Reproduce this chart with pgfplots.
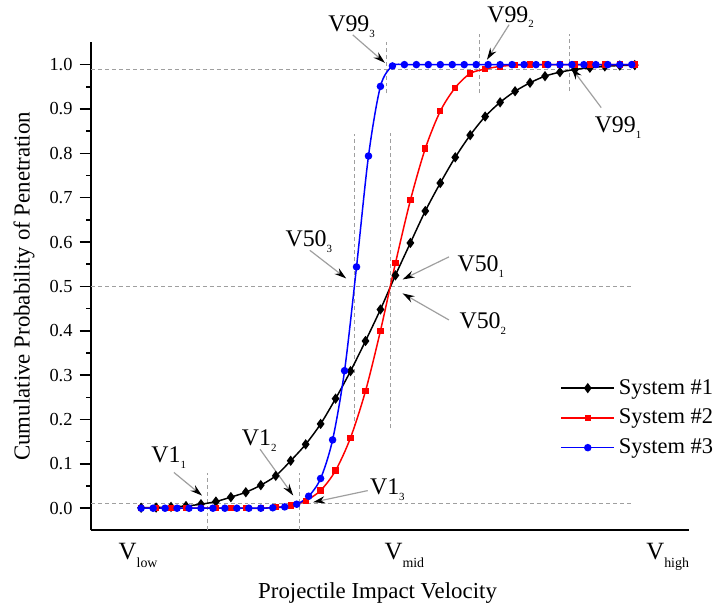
\documentclass[border=0pt]{standalone}
\usepackage{fontspec}
\setmainfont{Liberation Serif}
\usepackage{pgfplots}
\pgfplotsset{compat=1.18}
\usetikzlibrary{arrows.meta}

% V with a small, low subscript, as in the figure
\newcommand{\vsub}[2]{V#1\raisebox{-3pt}{\fontsize{5.5}{5.5}\selectfont #2}}
\newcommand{\ticksub}[1]{V\raisebox{-4pt}{\fontsize{7}{7}\selectfont #1}}

\begin{document}
\begin{tikzpicture}[
  refline/.style={gray!75, line width=0.5pt, dash pattern=on 2pt off 1.5pt},
  callout/.style={draw=gray!75, line width=0.6pt, -{Stealth[length=6pt,width=3.6pt,black]}},
  lab/.style={anchor=base west, inner sep=0pt, font=\fontsize{12}{14}\selectfont},
]
\begin{axis}[
  scale only axis,
  width=300.5pt, height=245.5pt,
  xmin=-3.32, xmax=36.61,
  ymin=-0.05, ymax=1.05,
  axis x line=bottom, axis y line=left,
  axis line style={-, line width=1pt},
  xtick={-0.2,17.6,35.2},
  xticklabels={\ticksub{low},\ticksub{mid},\ticksub{high}},
  x tick style={draw=none},
  x tick label style={font=\fontsize{12.5}{14}\selectfont, yshift=3pt},
  ytick={0,0.1,0.2,0.3,0.4,0.5,0.6,0.7,0.8,0.9,1.0},
  minor y tick num=1,
  y tick style={line width=0.8pt, black},
  tick align=outside,
  major tick length=6pt, minor tick length=2.5pt,
  y tick label style={font=\fontsize{9.25}{11}\selectfont,
    /pgf/number format/.cd, fixed, fixed zerofill, precision=1, assume math mode=true},
  xlabel={Projectile Impact Velocity},
  ylabel={Cumulative Probability of Penetration},
  label style={font=\fontsize{11.5}{13}\selectfont},
  xlabel style={at={(axis description cs:0.479,-0.129)}, anchor=center},
  ylabel style={at={(axis description cs:-0.113,0.5)}, anchor=center},
  clip=false,
  legend style={draw=none, fill=none, at={(axis description cs:0.775,0.327)},
    anchor=north west, font=\fontsize{11.3}{13}\selectfont, row sep=2pt},
  legend cell align=left,
  legend image code/.code={\draw[mark repeat=2,mark phase=2] plot coordinates {(0pt,0pt) (13.25pt,0pt) (26.5pt,0pt)};},
]

% reference lines
\draw[refline] (axis cs:-3.32,0.988) -- (axis cs:33.1,0.988);
\draw[refline] (axis cs:-3.32,0.5) -- (axis cs:32.8,0.5);
\draw[refline] (axis cs:-3.32,0.01) -- (axis cs:32.8,0.01);
\draw[refline] (axis cs:4.45,-0.05) -- (axis cs:4.45,0.079);
\draw[refline] (axis cs:10.56,-0.05) -- (axis cs:10.56,0.079);
\draw[refline] (axis cs:14.27,0.18) -- (axis cs:14.27,0.843);
\draw[refline] (axis cs:16.68,0.18) -- (axis cs:16.68,0.845);
\draw[refline] (axis cs:16.43,0.935) -- (axis cs:16.43,1.052);
\draw[refline] (axis cs:22.64,0.936) -- (axis cs:22.64,1.07);
\draw[refline] (axis cs:28.62,0.94) -- (axis cs:28.62,1.07);

\addplot[black, line width=0.75pt, smooth, mark=diamond*, mark size=2pt] coordinates {
  (0,0.001) (1,0.0015) (2,0.003) (3,0.005) (4,0.009) (5,0.015) (6,0.025) (7,0.036)
  (8,0.052) (9,0.073) (10,0.107) (11,0.144) (12,0.190) (13,0.247) (14,0.309) (15,0.377)
  (16,0.448) (17,0.525) (18,0.598) (19,0.670) (20,0.733) (21,0.791) (22,0.841) (23,0.883)
  (24,0.915) (25,0.940) (26,0.959) (27,0.974) (28,0.983) (29,0.989) (30,0.993) (31,0.996)
  (32,0.998) (33,0.999)
};
\addlegendentry{System \#1}

\addplot[red, line width=0.75pt, smooth, mark=square*, mark size=1.2pt] coordinates {
  (0,0) (1,0) (2,0) (3,0) (4,0) (5,0) (6,0) (7,0) (8,0)
  (9,0.002) (10,0.006) (11,0.017) (12,0.040) (13,0.085) (14,0.159) (15,0.264)
  (16,0.400) (17,0.552) (18,0.694) (19,0.811) (20,0.895) (21,0.948) (22,0.980)
  (23,0.990) (24,0.996) (25,0.999) (26,1) (27,1) (28,1) (29,1) (30,1) (31,1) (32,1) (33,1)
};
\addlegendentry{System \#2}

\addplot[blue, line width=0.75pt, smooth, mark=*, mark size=1.5pt] coordinates {
  (0,0) (0.8,0) (1.6,0) (2.4,0) (3.2,0) (4.0,0) (4.8,0) (5.6,0) (6.4,0) (7.2,0) (8.0,0)
  (8.8,0.001) (9.6,0.003) (10.4,0.009) (11.2,0.027) (12.0,0.067) (12.8,0.154)
  (13.6,0.310) (14.4,0.544) (15.2,0.794) (16.0,0.951) (16.8,0.997)
  (17.6,1) (18.4,1) (19.2,1) (20.0,1) (20.8,1) (21.6,1) (22.4,1) (23.2,1) (24.0,1)
  (24.8,1) (25.6,1) (26.4,1) (27.2,1) (28.0,1) (28.8,1) (29.6,1) (30.4,1) (31.2,1)
  (32.0,1) (32.8,1)
};
\addlegendentry{System \#3}

% callouts
\node[lab] at (axis cs:12.49,1.074) {\vsub{99}{3}};
\draw[callout] (axis cs:14.15,1.067) -- (axis cs:16.3,1.004);
\node[lab] at (axis cs:23.12,1.096) {\vsub{99}{2}};
\draw[callout] (axis cs:24.6,1.09) -- (axis cs:23.12,1.011);
\node[lab] at (axis cs:30.3,0.8475) {\vsub{99}{1}};
\draw[callout] (axis cs:30.76,0.903) -- (axis cs:28.77,0.9926);
\node[lab] at (axis cs:9.63,0.5897) {\vsub{50}{3}};
\draw[callout] (axis cs:11.28,0.5814) -- (axis cs:13.71,0.518);
\node[lab] at (axis cs:21.13,0.5336) {\vsub{50}{1}};
\draw[callout] (axis cs:20.58,0.5666) -- (axis cs:17.48,0.5157);
\node[lab] at (axis cs:21.26,0.4058) {\vsub{50}{2}};
\draw[callout] (axis cs:20.58,0.4244) -- (axis cs:17.48,0.4843);
\node[lab] at (axis cs:0.66,0.1031) {\vsub{1}{1}};
\draw[callout] (axis cs:2.19,0.0807) -- (axis cs:4.07,0.0285);
\node[lab] at (axis cs:6.71,0.1413) {\vsub{1}{2}};
\draw[callout] (axis cs:7.95,0.133) -- (axis cs:10.17,0.0285);
\node[lab] at (axis cs:15.28,0.0314) {\vsub{1}{3}};
\draw[callout] (axis cs:15.15,0.0397) -- (axis cs:11.5,0.0135);

% page extent of the reference figure
\path (axis cs:-9.435,-0.2197) rectangle (axis cs:38.6,1.1457);
\end{axis}
\end{tikzpicture}
\end{document}
